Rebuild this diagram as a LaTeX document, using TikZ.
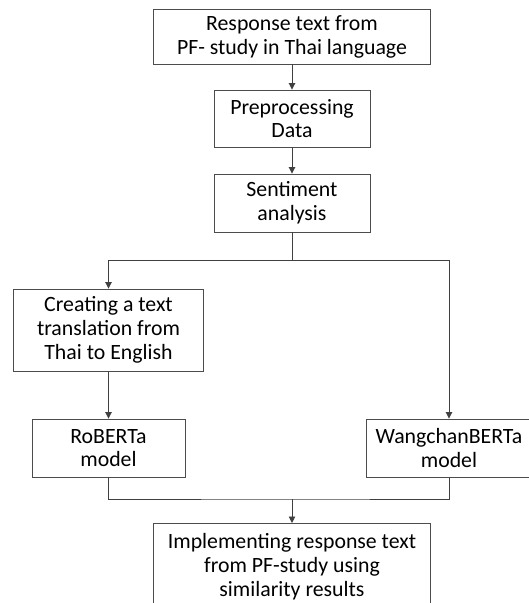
\documentclass[tikz,border=0pt]{standalone}
\usepackage{fontspec}
\setmainfont{Carlito}
\usetikzlibrary{arrows.meta,positioning,calc}

\begin{document}
\begin{tikzpicture}[
    x=1pt, y=-1pt,
    font=\fontsize{21.8}{23.8}\selectfont,
    stage/.style={draw=black!70, line width=0.9pt, align=center, inner sep=0pt},
    link/.style={draw=black!75, line width=0.9pt},
    flow/.style={link, -{Triangle[length=6.5pt, width=6.5pt]}}
  ]
    \useasboundingbox (0,0) rectangle (529,603);
    \clip (0,0) rectangle (529,603);

    \node[stage, minimum width=277pt, minimum height=55pt] (resp) at (292,36.5)
      {Response text from\\PF- study in Thai language};
    \node[stage, minimum width=156pt, minimum height=57pt] (prep) at (292,118.5)
      {Preprocessing\\Data};
    \node[stage, minimum width=156pt, minimum height=58pt] (sent) at (292,203)
      {Sentiment\\analysis};
    \node[stage, minimum width=190pt, minimum height=82pt] (translate) at (108.5,330)
      {Creating a text\\translation from\\Thai to English};
    \node[stage, minimum width=153pt, minimum height=58pt] (roberta) at (108.5,448)
      {RoBERTa\\model};
    \node[stage, minimum width=166pt, minimum height=58pt] (wangchan) at (449,448)
      {WangchanBERTa\\model};
    \node[stage, minimum width=277pt, minimum height=86pt, anchor=north] (implement) at (292,523)
      {Implementing response text\\from PF-study using\\similarity results};

    \coordinate (split) at (292,260);
    \coordinate (merge) at (292,499);

    \draw[flow] (resp) -- (prep);
    \draw[flow] (prep) -- (sent);
    \draw[link] (sent) -- (split);
    \draw[flow] (split) -| (translate);
    \draw[flow] (split) -| (wangchan);
    \draw[flow] (translate) -- (roberta);
    \draw[link] (roberta) |- (merge) -| (wangchan);
    \draw[flow] (merge) -- (implement);
  \end{tikzpicture}
\end{document}
